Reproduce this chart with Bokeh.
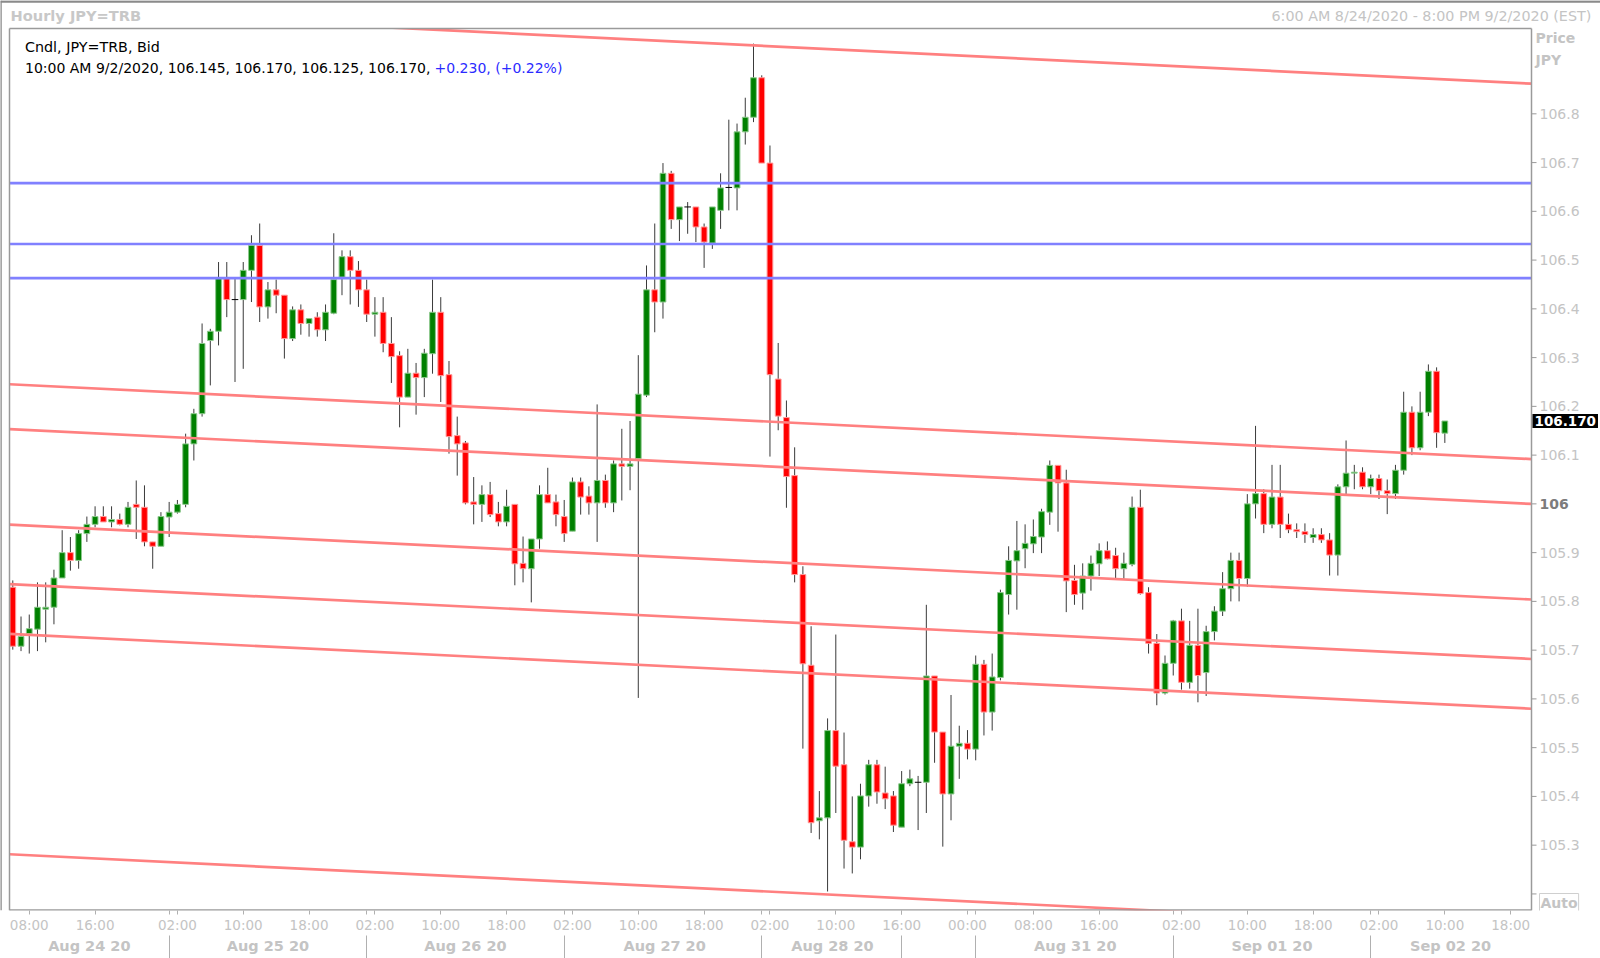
from bokeh.plotting import figure
from bokeh.models import Range1d, FixedTicker, LinearAxis, Label, ColumnDataSource
from bokeh.embed import file_html
from bokeh.resources import INLINE

# ---------------- data ----------------
opens = [105.829, 105.708, 105.734, 105.743, 105.784, 105.788, 105.848, 105.900, 105.884, 105.939,
         105.958, 105.974, 105.963, 105.968, 105.958, 105.999, 105.993, 105.922, 105.913, 105.973,
         105.983, 105.999, 106.123, 106.185, 106.335, 106.354, 106.462, 106.419, 106.419, 106.479,
         106.530, 106.404, 106.439, 106.428, 106.339, 106.398, 106.370, 106.383, 106.357, 106.391,
         106.465, 106.507, 106.479, 106.439, 106.389, 106.393, 106.329, 106.304, 106.219, 106.268,
         106.259, 106.308, 106.393, 106.265, 106.140, 106.125, 106.004, 105.999, 106.019, 105.980,
         105.963, 105.999, 105.878, 105.867, 105.928, 106.019, 106.004, 105.974, 105.944, 106.045,
         106.016, 106.002, 106.048, 106.002, 106.082, 106.077, 106.093, 106.223, 106.439, 106.414,
         106.678, 106.583, 106.609, 106.609, 106.568, 106.535, 106.602, 106.649, 106.648, 106.763,
         106.793, 106.874, 106.699, 106.256, 106.177, 106.058, 105.855, 105.669, 105.350, 105.356,
         105.535, 105.465, 105.307, 105.296, 105.401, 105.465, 105.407, 105.401, 105.337, 105.426,
         105.429, 105.429, 105.647, 105.532, 105.405, 105.503, 105.509, 105.497, 105.671, 105.573,
         105.644, 105.814, 105.883, 105.908, 105.918, 105.932, 105.983, 106.079, 106.043, 105.843,
         105.817, 105.852, 105.877, 105.904, 105.894, 105.867, 105.876, 105.993, 105.818, 105.714,
         105.612, 105.673, 105.760, 105.634, 105.710, 105.654, 105.738, 105.780, 105.826, 105.884,
         105.847, 106.000, 106.021, 105.958, 106.014, 105.958, 105.947, 105.943, 105.931, 105.937,
         105.926, 105.895, 106.035, 106.063, 106.065, 106.035, 106.052, 106.027, 106.021, 106.069,
         106.188, 106.115, 106.188, 106.272, 106.145]
highs = [105.843, 105.769, 105.773, 105.839, 105.839, 105.865, 105.946, 105.932, 105.946, 105.974,
         105.995, 105.995, 105.995, 105.980, 106.004, 106.048, 106.038, 105.922, 105.983, 106.004,
         106.008, 106.144, 106.195, 106.370, 106.359, 106.496, 106.496, 106.462, 106.496, 106.551,
         106.575, 106.455, 106.460, 106.428, 106.405, 106.409, 106.380, 106.393, 106.409, 106.555,
         106.520, 106.520, 106.498, 106.460, 106.424, 106.424, 106.383, 106.313, 106.318, 106.289,
         106.318, 106.460, 106.424, 106.293, 106.179, 106.129, 106.055, 106.038, 106.045, 106.004,
         106.029, 105.999, 105.933, 105.928, 106.038, 106.074, 106.019, 106.008, 106.054, 106.054,
         106.036, 106.204, 106.060, 106.089, 106.154, 106.170, 106.305, 106.489, 106.575, 106.699,
         106.683, 106.609, 106.619, 106.609, 106.575, 106.609, 106.678, 106.788, 106.780, 106.833,
         106.944, 106.879, 106.735, 106.330, 106.212, 106.116, 105.872, 105.749, 105.411, 105.560,
         105.732, 105.531, 105.400, 105.426, 105.475, 105.475, 105.461, 105.411, 105.452, 105.455,
         105.442, 105.793, 105.647, 105.532, 105.608, 105.545, 105.536, 105.689, 105.680, 105.693,
         105.824, 105.913, 105.965, 105.958, 105.968, 105.990, 106.089, 106.079, 106.070, 105.875,
         105.878, 105.894, 105.919, 105.923, 105.910, 105.900, 106.015, 106.029, 105.829, 105.733,
         105.689, 105.762, 105.785, 105.760, 105.785, 105.750, 105.790, 105.860, 105.900, 105.900,
         106.020, 106.160, 106.030, 106.080, 106.080, 105.980, 105.960, 105.960, 105.950, 105.950,
         105.940, 106.040, 106.130, 106.080, 106.075, 106.060, 106.060, 106.050, 106.080, 106.230,
         106.200, 106.230, 106.286, 106.280, 106.170]
lows = [105.701, 105.698, 105.693, 105.698, 105.716, 105.753, 105.848, 105.863, 105.867, 105.922,
        105.952, 105.963, 105.952, 105.956, 105.952, 105.928, 105.913, 105.867, 105.913, 105.932,
        105.980, 105.993, 106.089, 106.179, 106.243, 106.325, 106.383, 106.250, 106.277, 106.414,
        106.373, 106.380, 106.391, 106.298, 106.334, 106.347, 106.343, 106.343, 106.334, 106.389,
        106.428, 106.409, 106.404, 106.373, 106.343, 106.311, 106.248, 106.157, 106.219, 106.183,
        106.219, 106.267, 106.209, 106.103, 106.058, 105.999, 105.958, 105.963, 105.973, 105.954,
        105.954, 105.833, 105.839, 105.798, 105.908, 106.002, 105.954, 105.922, 105.944, 105.978,
        105.978, 105.922, 105.992, 105.983, 106.007, 106.028, 105.602, 106.219, 106.352, 106.380,
        106.564, 106.539, 106.554, 106.537, 106.484, 106.523, 106.564, 106.602, 106.602, 106.737,
        106.783, 106.699, 106.097, 106.151, 105.992, 105.839, 105.498, 105.325, 105.312, 105.205,
        105.366, 105.252, 105.242, 105.271, 105.379, 105.385, 105.374, 105.327, 105.337, 105.421,
        105.331, 105.366, 105.469, 105.297, 105.351, 105.436, 105.476, 105.474, 105.525, 105.535,
        105.638, 105.773, 105.783, 105.868, 105.899, 105.899, 105.957, 105.943, 105.778, 105.793,
        105.783, 105.822, 105.852, 105.886, 105.846, 105.846, 105.872, 105.814, 105.693, 105.587,
        105.609, 105.648, 105.619, 105.621, 105.593, 105.606, 105.720, 105.770, 105.800, 105.800,
        105.830, 105.970, 105.940, 105.950, 105.930, 105.940, 105.930, 105.920, 105.920, 105.920,
        105.853, 105.853, 106.020, 106.030, 106.030, 106.020, 106.010, 105.979, 106.010, 106.060,
        106.100, 106.110, 106.180, 106.115, 106.125]
closes = [105.708, 105.728, 105.744, 105.788, 105.788, 105.848, 105.900, 105.884, 105.939, 105.958,
          105.974, 105.963, 105.968, 105.958, 105.993, 105.993, 105.922, 105.913, 105.974, 105.983,
          105.999, 106.123, 106.185, 106.329, 106.354, 106.462, 106.419, 106.419, 106.479, 106.530,
          106.404, 106.439, 106.428, 106.339, 106.398, 106.370, 106.380, 106.357, 106.393, 106.460,
          106.507, 106.479, 106.439, 106.389, 106.393, 106.329, 106.302, 106.219, 106.268, 106.259,
          106.309, 106.393, 106.263, 106.138, 106.123, 106.002, 105.999, 106.019, 105.978, 105.963,
          105.995, 105.877, 105.867, 105.928, 106.019, 106.002, 105.978, 105.939, 106.045, 106.014,
          106.002, 106.048, 106.002, 106.082, 106.077, 106.082, 106.225, 106.439, 106.414, 106.678,
          106.583, 106.609, 106.609, 106.568, 106.537, 106.609, 106.648, 106.649, 106.763, 106.793,
          106.874, 106.699, 106.265, 106.180, 106.056, 105.855, 105.672, 105.346, 105.356, 105.535,
          105.462, 105.310, 105.296, 105.401, 105.465, 105.409, 105.395, 105.341, 105.426, 105.436,
          105.429, 105.647, 105.532, 105.405, 105.503, 105.509, 105.497, 105.671, 105.573, 105.645,
          105.818, 105.884, 105.904, 105.919, 105.933, 105.984, 106.079, 106.043, 105.842, 105.814,
          105.852, 105.878, 105.904, 105.887, 105.867, 105.878, 105.993, 105.816, 105.714, 105.612,
          105.673, 105.760, 105.634, 105.710, 105.648, 105.738, 105.780, 105.826, 105.884, 105.847,
          106.000, 106.021, 105.958, 106.014, 105.958, 105.947, 105.943, 105.937, 105.937, 105.926,
          105.895, 106.035, 106.063, 106.065, 106.035, 106.052, 106.027, 106.021, 106.069, 106.188,
          106.115, 106.188, 106.272, 106.146, 106.170]

time_tick_pos = [2, 10, 20, 28, 36, 44, 52, 60, 68, 76, 84, 92, 100, 108, 116, 124, 132, 142, 150,
                 158, 166, 174, 182]
time_tick_labels = ["08:00", "16:00", "02:00", "10:00", "18:00", "02:00", "10:00", "18:00", "02:00",
                    "10:00", "18:00", "02:00", "10:00", "16:00", "00:00", "08:00", "16:00", "02:00",
                    "10:00", "18:00", "02:00", "10:00", "18:00"]
day_label_pos = [9.3, 31.0, 55.0, 79.2, 99.6, 129.1, 153.0, 174.7]
day_labels = ["Aug 24 20", "Aug 25 20", "Aug 26 20", "Aug 27 20", "Aug 28 20", "Aug 31 20",
              "Sep 01 20", "Sep 02 20"]
day_separators = [19, 43, 67, 91, 108, 117, 141, 165]
price_ticks = [105.2, 105.3, 105.4, 105.5, 105.6, 105.7, 105.8, 105.9, 106.0, 106.1, 106.2, 106.3,
               106.4, 106.5, 106.6, 106.7, 106.8]
price_tick_labels = ["", "105.3", "105.4", "105.5", "105.6", "105.7", "105.8", "105.9", "106",
                     "106.1", "106.2", "106.3", "106.4", "106.5", "106.6", "106.7", "106.8"]
channel_at_zero = [107.015, 106.245, 106.153, 105.957, 105.835, 105.733, 105.281]
channel_slope = -0.00083
resistance_levels = [106.658, 106.533, 106.463]
last_price = 106.170

# ---------------- layout ----------------
W, H = 1600, 958
CX0, CX1 = -0.40, 184.53          # chart area in bar units
CY0, CY1 = 105.166, 106.975       # chart area in price
CL, CR, CT, CB = 9, 1531, 28, 910  # chart area in canvas pixels
kx = (CX1 - CX0) / (CR - CL)
ky = (CY1 - CY0) / (CB - CT)
XLO, XHI = CX0 - CL * kx, CX1 + (W - CR) * kx
YLO, YHI = CY0, CY1 + CT * ky
FONT = "DejaVu Sans"
GREY = "#c4c4c4"
FRAME = "#9a9a9a"


def dx(fx):
    return XLO + fx * kx


def dy(fy):
    return YHI - fy * ky


p = figure(width=W, height=H, x_range=Range1d(XLO, XHI), y_range=Range1d(YLO, YHI),
           y_axis_location=None, output_backend="svg", toolbar_location=None, title=None,
           min_border_left=0, min_border_right=0, min_border_top=0, min_border_bottom=H - CB,
           background_fill_color="white", border_fill_color="white")
p.grid.visible = False
p.outline_line_color = None

# bottom time axis
xax = p.xaxis[0]
xax.ticker = FixedTicker(ticks=time_tick_pos, minor_ticks=day_separators)
xax.major_label_overrides = dict(zip(time_tick_pos, time_tick_labels))
xax.axis_line_color = None
xax.major_tick_line_color = "#b0b0b0"
xax.minor_tick_line_color = "#b0b0b0"
xax.major_tick_out = 4
xax.major_tick_in = 0
xax.minor_tick_out = 4
xax.minor_tick_in = 0
xax.major_label_text_color = GREY
xax.major_label_text_font = FONT
xax.major_label_text_font_size = "13.5px"
xax.major_label_standoff = 2

# bottom day axis (long minor ticks = day separators)
dax = LinearAxis(ticker=FixedTicker(ticks=day_label_pos, minor_ticks=day_separators),
                 major_label_overrides=dict(zip(day_label_pos, day_labels)),
                 axis_line_color=None, major_tick_line_color=None, major_tick_out=0, major_tick_in=0,
                 minor_tick_line_color="#b0b0b0", minor_tick_out=25, minor_tick_in=0,
                 major_label_text_color=GREY, major_label_text_font=FONT,
                 major_label_text_font_size="14.5px", major_label_text_font_style="bold",
                 major_label_standoff=-23)
p.add_layout(dax, "below")

# ---------------- candles ----------------
n = len(opens)
xs = list(range(n))
src = ColumnDataSource(dict(
    x=xs, o=opens, h=highs, l=lows, c=closes,
    top=[max(a, b) for a, b in zip(opens, closes)],
    bot=[min(a, b) for a, b in zip(opens, closes)],
    fill=["#008000" if c > o else "#ff0000" for o, c in zip(opens, closes)],
    edge=["#8cc88c" if c > o else "#ff9a9a" for o, c in zip(opens, closes)],
))
p.segment(x0="x", y0="l", x1="x", y1="h", source=src, line_color="#3a3a3a", line_width=1)
body_view = [i for i in xs if opens[i] != closes[i]]
doji_view = [i for i in xs if opens[i] == closes[i]]
bsrc = ColumnDataSource({k: [v[i] for i in body_view] for k, v in src.data.items()})
p.vbar(x="x", width=0.7, top="top", bottom="bot", source=bsrc, fill_color="fill",
       line_color="edge", line_width=1)
dsrc = ColumnDataSource(dict(x0=[i - 0.4 for i in doji_view], x1=[i + 0.4 for i in doji_view],
                             y=[opens[i] for i in doji_view]))
p.segment(x0="x0", y0="y", x1="x1", y1="y", source=dsrc, line_color="black", line_width=1)

# ---------------- drawn lines (chart area only) ----------------
m = len(channel_at_zero)
p.segment(x0=[CX0] * m, x1=[CX1] * m,
          y0=[a + channel_slope * CX0 for a in channel_at_zero],
          y1=[a + channel_slope * CX1 for a in channel_at_zero],
          line_color="#ff8080", line_width=2.7)
r = len(resistance_levels)
p.segment(x0=[CX0] * r, x1=[CX1] * r, y0=resistance_levels, y1=resistance_levels,
          line_color="#8080ff", line_width=2.7)

# mask above the chart area (title bar)
p.quad(left=[XLO], right=[XHI], bottom=[CY1], top=[YHI], fill_color="white", line_color=None)

# window edges and chart frame
p.segment(x0=[XLO, XLO], y0=[YHI - 1 * ky, YLO], x1=[XHI, XLO], y1=[YHI - 1 * ky, YHI],
          line_color="#8a8a8a", line_width=2.5)
p.segment(x0=[CX0, CX0, CX1], y0=[CY0, CY1, CY0], x1=[CX0, CX1, CX1], y1=[CY1, CY1, CY1],
          line_color=FRAME, line_width=1.5)
p.segment(x0=[CX0], y0=[CY0], x1=[CX1], y1=[CY0], line_color=FRAME, line_width=2.5)

# price scale on the right of the chart area
tick_len = 5 * kx
p.segment(x0=[CX1] * len(price_ticks), x1=[CX1 + tick_len] * len(price_ticks),
          y0=price_ticks, y1=price_ticks, line_color=FRAME, line_width=1)
reg = [i for i, t in enumerate(price_tick_labels) if t != "106"]
bold = [i for i, t in enumerate(price_tick_labels) if t == "106"]
p.text(x=[CX1 + 8 * kx] * len(reg), y=[price_ticks[i] for i in reg],
       text=[price_tick_labels[i] for i in reg], text_font={"value": FONT},
       text_font_size="14px", text_color=GREY, text_baseline="middle", text_align="left")
p.text(x=[CX1 + 8 * kx] * len(bold), y=[price_ticks[i] for i in bold],
       text=[price_tick_labels[i] for i in bold], text_font={"value": FONT},
       text_font_size="14px", text_font_style="bold", text_color="#7c7c7c",
       text_baseline="middle", text_align="left")


# ---------------- texts ----------------
def lab(fx, fy, text, **kw):
    opts = dict(text_font=FONT, text_font_size="14px", text_baseline="middle", text_align="left")
    opts.update(kw)
    p.add_layout(Label(x=dx(fx), y=dy(fy), text=text, **opts))


lab(10, 15, "Hourly JPY=TRB", text_color="#c8c8c8", text_font_style="bold", text_font_size="14.6px")
lab(1271, 15, "6:00 AM 8/24/2020 - 8:00 PM 9/2/2020 (EST)", text_color="#c4c4c4",
    text_font_size="14.3px")
lab(1535, 37, "Price", text_color="#c4c4c4", text_font_style="bold")
lab(1535, 59, "JPY", text_color="#c4c4c4", text_font_style="bold")
lab(24.5, 46, "Cndl, JPY=TRB, Bid", text_color="black", text_font_size="14.3px")
lab(24.5, 67.4, "10:00 AM 9/2/2020, %.3f, %.3f, %.3f, %.3f," % (opens[-1], highs[-1], lows[-1], closes[-1]),
    text_color="black")
lab(434, 67.4, "+0.230, (+0.22%)", text_color="#2b2bff")
p.add_layout(Label(x=dx(CR + 1), y=last_price, text="%.3f" % last_price, text_font=FONT,
                   text_font_size="13.5px", text_font_style="bold", text_color="white",
                   text_baseline="middle", background_fill_color="black", padding=2))
lab(1539, 902, "Auto", text_color="#c4c4c4", text_font_style="bold",
    border_line_color="#cfcfcf", background_fill_color="white", padding=1)

open("out.html", "w").write(file_html(p, INLINE))
